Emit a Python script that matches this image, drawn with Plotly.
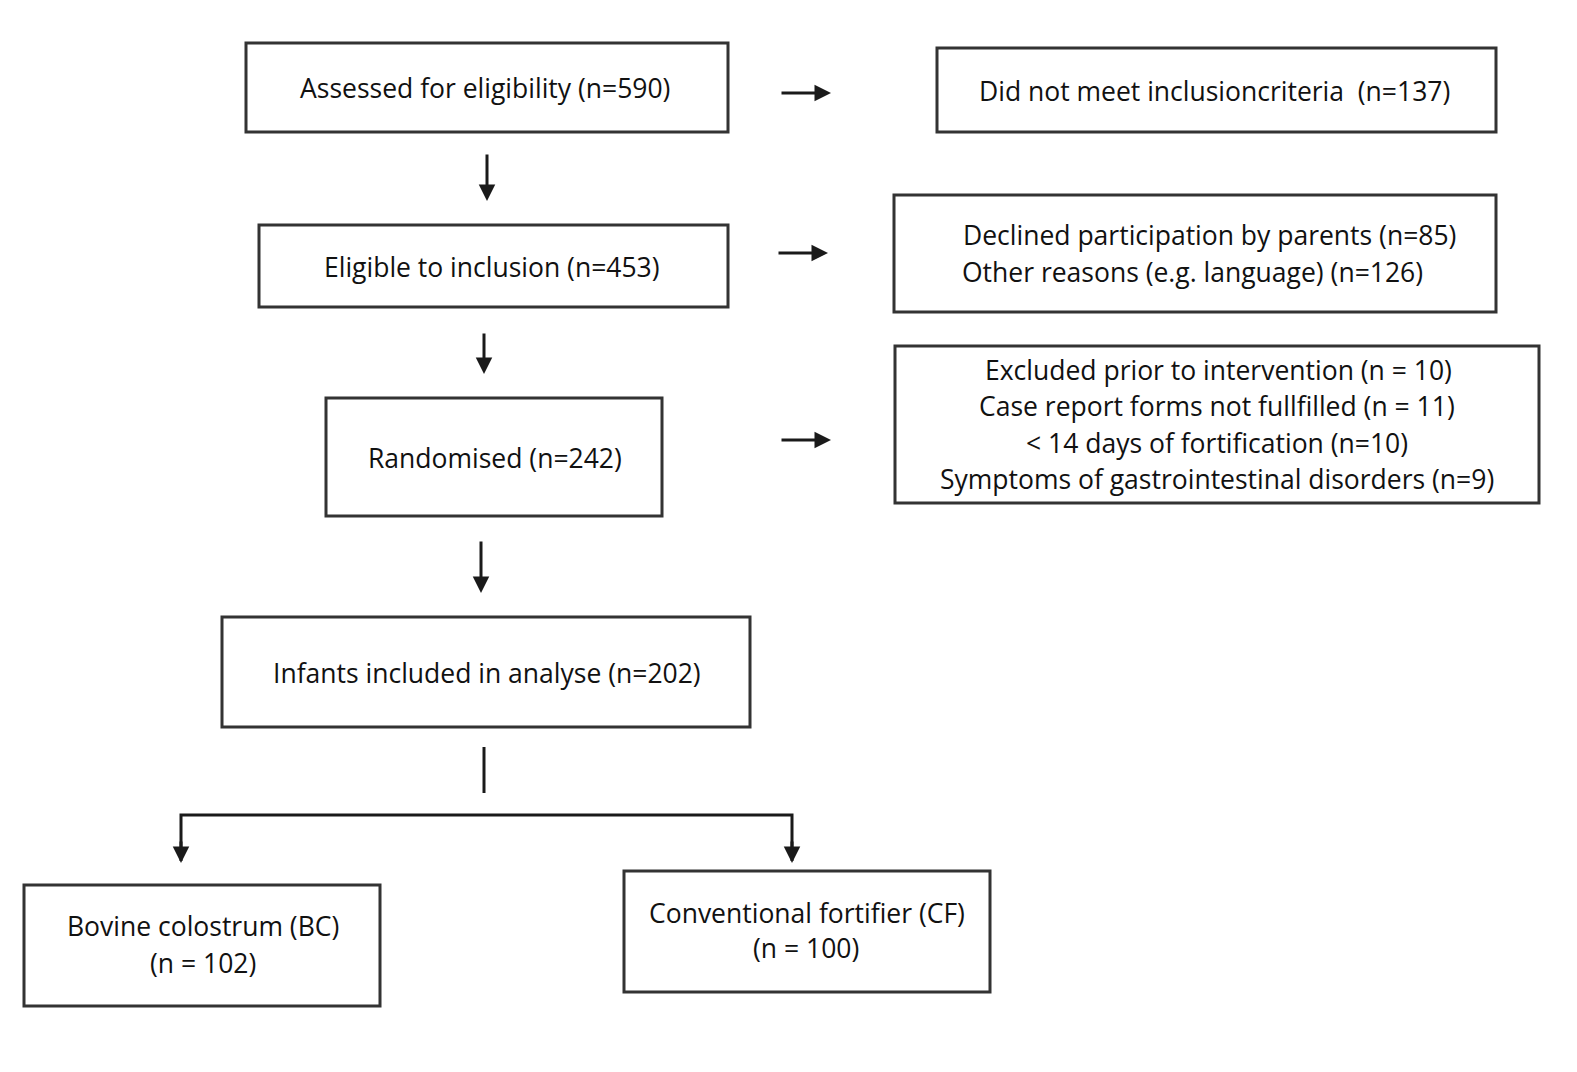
import plotly.graph_objects as go

# ---------------- data (text content of the flow chart) ----------------
main_labels = [
    "Assessed for eligibility (n=590)",
    "Eligible to inclusion (n=453)",
    "Randomised (n=242)",
    "Infants included in analyse (n=202)",
]
side_lines = [
    ["Did not meet inclusioncriteria  (n=137)"],
    ["Declined participation by parents (n=85)",
     "Other reasons (e.g. language) (n=126)"],
    ["Excluded prior to intervention (n = 10)",
     "Case report forms not fullfilled (n = 11)",
     "< 14 days of fortification (n=10)",
     "Symptoms of gastrointestinal disorders (n=9)"],
]
arm_lines = [
    ["Bovine colostrum (BC)", "(n = 102)"],
    ["Conventional fortifier (CF)", "(n = 100)"],
]

# ---------------- layout geometry (page pixels, y downward) ----------------
W, H = 1577, 1072
OFF = 8  # default page body margin
main_boxes = [(246, 43, 728, 132), (259, 225, 728, 307),
              (326, 398, 662, 516), (222, 617, 750, 727)]
main_text_pos = [(485, 88), (492, 267), (495, 458), (487, 673)]
side_boxes = [(937, 48, 1496, 132), (894, 195, 1496, 312), (895, 346, 1539, 503)]
side_text_pos = [[(1214, 91)],
                 [(1209, 235), (1192, 272)],
                 [(1218, 370), (1217, 406), (1217, 443), (1217, 479)]]
side_arrows = [(780, 831, 93), (777, 828, 253), (780, 831, 440)]
down_arrows = [(487, 153, 201), (484, 332, 374), (481, 540, 593)]
arm_boxes = [(24, 885, 380, 1006), (624, 871, 990, 992)]
arm_text_pos = [[(203, 926), (203, 963)], [(807, 913), (806, 948)]]

LINE = "#333333"
TXT = "#111111"
FONT = "Open Sans"
FS = 26.5

fig = go.Figure()
shapes = []
annotations = []


def box(b):
    shapes.append(dict(type="rect", x0=b[0], y0=b[1], x1=b[2], y1=b[3],
                       line=dict(color=LINE, width=3), fillcolor="rgba(0,0,0,0)"))


def label(text, x, y):
    annotations.append(dict(x=x, y=y, xref="x", yref="y", text=text,
                            showarrow=False, xanchor="center", yanchor="middle",
                            font=dict(family=FONT, size=FS, color=TXT)))


def arrow(x0, y0, x1, y1):
    annotations.append(dict(x=x1, y=y1, ax=x0, ay=y0, xref="x", yref="y",
                            axref="x", ayref="y", text="", showarrow=True,
                            arrowhead=2, arrowsize=1.1, arrowwidth=3,
                            arrowcolor="#1a1a1a", standoff=0, startstandoff=0))


for b, t, p in zip(main_boxes, main_labels, main_text_pos):
    box(b)
    label(t, *p)

for b, lines, ps in zip(side_boxes, side_lines, side_text_pos):
    box(b)
    for t, p in zip(lines, ps):
        label(t, *p)

for b, lines, ps in zip(arm_boxes, arm_lines, arm_text_pos):
    box(b)
    for t, p in zip(lines, ps):
        label(t, *p)

for x0, x1, y in side_arrows:
    arrow(x0, y, x1, y)
for x, y0, y1 in down_arrows:
    arrow(x, y0, x, y1)

# split connector below "Infants included"
shapes.append(dict(type="line", x0=484, y0=747, x1=484, y1=793,
                   line=dict(color="#1a1a1a", width=3)))
shapes.append(dict(type="path", path="M 181 861 L 181 815 L 792 815 L 792 861",
                   line=dict(color="#1a1a1a", width=3)))
arrow(181, 840, 181, 863)
arrow(792, 840, 792, 863)

fig.update_layout(
    width=W - OFF, height=H - OFF,
    margin=dict(l=0, r=0, t=0, b=0),
    paper_bgcolor="white", plot_bgcolor="white",
    xaxis=dict(range=[OFF, W], visible=False, fixedrange=True),
    yaxis=dict(range=[H, OFF], visible=False, fixedrange=True),
    shapes=shapes, annotations=annotations, showlegend=False,
)

fig.write_html("out.html")
